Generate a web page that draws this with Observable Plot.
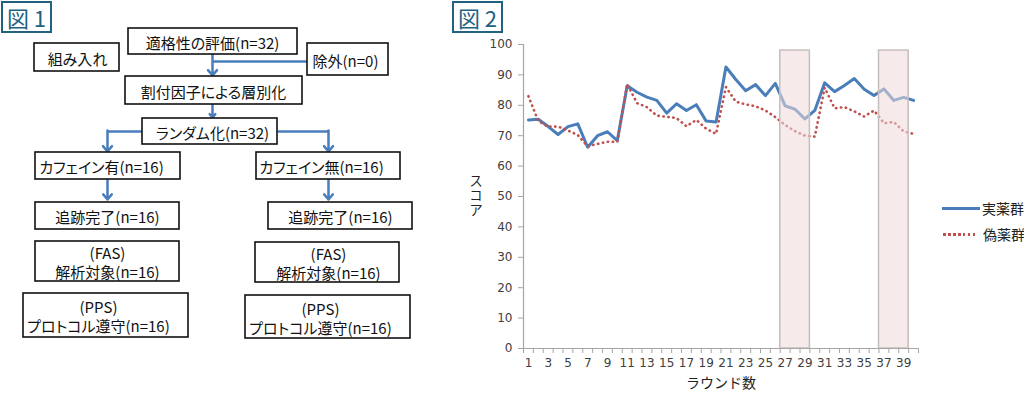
<!DOCTYPE html>
<html><head><meta charset="utf-8">
<script src="https://cdn.jsdelivr.net/npm/d3@7"></script>
<script src="https://cdn.jsdelivr.net/npm/@observablehq/plot@0.6"></script>
<style>
html,body{margin:0;padding:0;background:#fff;}
#wrap{position:relative;width:1024px;height:394px;overflow:hidden;font-family:"Noto Sans CJK JP",sans-serif;}
.fig{position:absolute;border:2px solid #236180;color:#236180;font-size:22px;line-height:28px;text-align:center;box-sizing:border-box;width:51px;height:32px;background:#fff;}
.leg{position:absolute;font-size:14px;color:#222;line-height:18px;white-space:nowrap;}
#flow,#chart{position:absolute;top:0;}
#flow{left:0;}#chart{left:450px;}
#flow svg text{font-feature-settings:"palt";}
#ylab{position:absolute;left:468px;top:174px;writing-mode:vertical-rl;font-size:13.5px;line-height:16px;color:#222;letter-spacing:1px;}
</style></head>
<body><div id="wrap">
<div id="flow"></div><div id="chart"></div>
<div class="fig" style="left:1px;top:1px;">図 1</div>
<div class="fig" style="left:452px;top:1px;">図 2</div>
<div id="ylab"></div>
<div style="position:absolute;left:942px;top:207px;width:38px;height:3px;background:#4a7ebb;"></div>
<div class="leg" style="left:982px;top:199px;">実薬群</div>
<div style="position:absolute;left:943px;top:233px;width:34px;height:2.5px;background:repeating-linear-gradient(to right,#c0504d 0 2.5px,transparent 2.5px 5px);"></div>
<div class="leg" style="left:983px;top:225px;">偽薬群</div>
</div>
<script>
// ---- Chart data (図2) ----
const rounds = d3.range(1, 41);
const activeScores = [75.2,75.4,73,70.4,73,73.9,66.2,70,71.3,68.4,86.4,84.3,82.7,81.6,77.4,80.5,78.3,80.2,74.8,74.5,92.6,88.5,84.8,86.8,83.2,87.2,79.8,78.7,75.5,78.3,87.4,84.5,86.5,88.8,85.3,83.2,85.4,81.6,82.6,81.6];
const placeboScores = [83,74.8,73,73,71.7,70.2,66.5,67.3,68,68,87,80.7,79.4,76.6,76.2,75.8,73.1,75.2,72.3,70.6,86,81.2,80.3,79.7,78.3,76.1,73.5,71.5,70,69.7,85.8,79,79.4,78,76.3,78.3,74.1,74.5,71.4,70.6];
const seriesNames = ["実薬群", "偽薬群"];
const shadeStart = [27, 37];
const shadeEnd = [29, 39];
const shadeTop = [98, 98];
const yTicks = d3.range(0, 101, 10);
const xTickLabels = rounds.filter(r => r % 2 === 1);
const yLabel = "スコア";
const xLabel = "ラウンド数";

// ---- Flowchart text (図1) ----
const flowLabels = ["適格性の評価(n=32)","組み入れ","除外(n=0)","割付因子による層別化","ランダム化(n=32)","カフェイン有(n=16)","カフェイン無(n=16)","追跡完了(n=16)","追跡完了(n=16)","(FAS)\n解析対象(n=16)","(FAS)\n解析対象(n=16)","(PPS)\nプロトコル遵守(n=16)","(PPS)\nプロトコル遵守(n=16)"];
// layout of the diagram (pixel positions)
const flowLayout = [
 [128,28,297,54,212],[34,43,119,71,77],[307,43,388,75,345],[125,76,302,104,213],
 [142,118,277,144,212],[35,152,180,179,101],[256,152,400,179,321],
 [35,202,179,229,107],[268,202,412,229,340],[35,241,179,281,107],[255,242,399,282,328],
 [23,293,188,337,98],[245,295,410,338,320]
];
const flowBoxes = flowLabels.map((label, i) => {
  const [x1, y1, x2, y2, tx] = flowLayout[i];
  return {label, x1, y1, x2, y2, tx, ty: (y1 + y2) / 2 + 1};
});
const flowLinks = [
  {x1:212,y1:61,x2:307,y2:61},{x1:142,y1:131,x2:107,y2:131},{x1:277,y1:131,x2:328,y2:131}
];
const flowArrows = [
  {x1:212,y1:54,x2:212,y2:75},{x1:212,y1:104,x2:212,y2:117},
  {x1:107,y1:130,x2:107,y2:151},{x1:328,y1:130,x2:328,y2:151},
  {x1:107,y1:179,x2:107,y2:199},{x1:328,y1:179,x2:328,y2:199}
];

const flow = Plot.plot({
  width: 450, height: 394, margin: 0,
  x: {type: "identity", axis: null}, y: {type: "identity", axis: null},
  style: {fontFamily: "'Noto Sans CJK JP', sans-serif", fontSize: "15px", background: "transparent"},
  marks: [
    Plot.link(flowLinks, {x1:"x1",y1:"y1",x2:"x2",y2:"y2",stroke:"#4a7ebb",strokeWidth:2.5}),
    Plot.arrow(flowArrows, {x1:"x1",y1:"y1",x2:"x2",y2:"y2",stroke:"#4a7ebb",strokeWidth:2.5,headLength:9,headAngle:80}),
    Plot.rect(flowBoxes, {x1:"x1",y1:"y1",x2:"x2",y2:"y2",fill:"white",stroke:"#111",strokeWidth:1.6}),
    Plot.text(flowBoxes, {x:"tx",y:"ty",text:"label",fill:"#111",fontSize:15,lineHeight:1.27})
  ]
});
document.getElementById("flow").appendChild(flow);

const data = rounds.map((r, i) => ({round: r, active: activeScores[i], placebo: placeboScores[i]}));
const shades = shadeStart.map((s, i) => ({start: s, end: shadeEnd[i], top: shadeTop[i]}));
const boundaries = d3.range(0.5, 41, 1);

const chart = Plot.plot({
  width: 574, height: 394,
  marginLeft: 73, marginTop: 44, marginBottom: 46, marginRight: 106,
  x: {domain: [0.5, 40.5], axis: null},
  y: {domain: [0, 100], axis: null},
  style: {fontFamily: "'DejaVu Sans', sans-serif", fontSize: "12px", color: "#404040", background: "transparent"},
  marks: [
    Plot.line(data, {x: "round", y: "active", stroke: "#4a7ebb", strokeWidth: 3, strokeLinejoin: "round"}),
    Plot.line(data, {x: "round", y: "placebo", stroke: "#c0504d", strokeWidth: 2.6, strokeDasharray: "0.4 4.6", strokeLinecap: "round"}),
    Plot.rect(shades, {x1: d => d.start - 0.5, x2: d => d.end + 0.5, y1: 0, y2: "top", fill: "#efd8d8", fillOpacity: 0.55, stroke: "#c6bebe", strokeWidth: 1.5}),
    Plot.ruleY([0], {stroke: "#a6a6a6", strokeWidth: 1.2}),
    Plot.ruleX([0.5], {stroke: "#a6a6a6", strokeWidth: 1.2}),
    Plot.axisY({ticks: yTicks, tickSize: 5, tickPadding: 6, stroke: "#a6a6a6", fill: "#404040", label: null}),
    Plot.axisX({ticks: boundaries, tickSize: 5, tickFormat: () => "", stroke: "#a6a6a6", label: null}),
    Plot.axisX({ticks: xTickLabels, tickSize: 0, tickPadding: 10, fill: "#404040", tickFormat: d => String(d), label: null}),
    Plot.text([xLabel], {frameAnchor: "bottom", dy: 39, fontSize: 14, fill: "#222", fontFamily: "'Noto Sans CJK JP', sans-serif"})
  ]
});
document.getElementById("chart").appendChild(chart);
document.getElementById("ylab").textContent = yLabel;
</script>
</body></html>
